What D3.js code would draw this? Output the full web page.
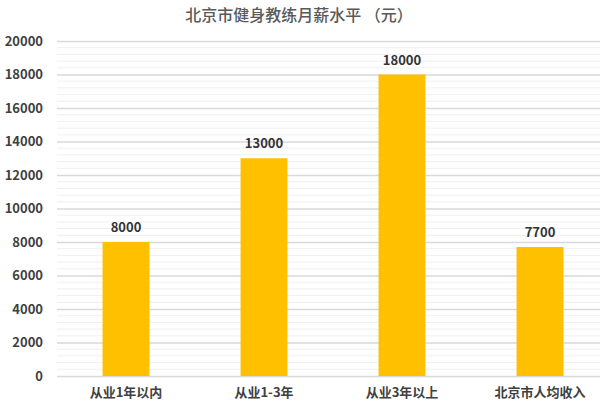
<!DOCTYPE html>
<html>
<head>
<meta charset="utf-8">
<script src="https://cdn.jsdelivr.net/npm/d3@7"></script>
<style>
  body { margin: 0; background: #fff; }
  text { font-family: "Noto Sans CJK SC", "Noto Sans", sans-serif; }
</style>
</head>
<body>
<div id="chart"></div>
<script>
  // data
  var categories = ["从业1年以内", "从业1-3年", "从业3年以上", "北京市人均收入"];
  var salaries = [8000, 13000, 18000, 7700];
  var yTicks = [0, 2000, 4000, 6000, 8000, 10000, 12000, 14000, 16000, 18000, 20000];
  var title = "北京市健身教练月薪水平 （元）";

  var width = 600, height = 404;
  // plot box (note: "top" is reserved on window, so use plot* names)
  var plotLeft = 57, plotRight = 609, plotTop = 41, plotBottom = 376;

  var svg = d3.select("#chart").append("svg")
    .attr("width", width)
    .attr("height", height);

  var x = d3.scaleBand().domain(categories).range([plotLeft, plotRight]).paddingInner(0.66).paddingOuter(0.33);
  var y = d3.scaleLinear().domain([0, 20000]).range([plotBottom, plotTop]);

  // minor gridlines every 400
  var minor = d3.range(0, 20001, 400).filter(function (v) { return v % 2000 !== 0; });
  svg.append("g").selectAll("line").data(minor).enter().append("line")
    .attr("x1", plotLeft).attr("x2", width)
    .attr("y1", function (d) { return y(d); }).attr("y2", function (d) { return y(d); })
    .attr("stroke", "#efefef").attr("stroke-width", 1);

  // major gridlines + labels
  var yAxis = d3.axisLeft(y).tickValues(yTicks).tickFormat(d3.format("d"))
    .tickSize(-(width - plotLeft)).tickPadding(14);
  var gy = svg.append("g").attr("transform", "translate(" + plotLeft + ",0)").call(yAxis);
  gy.select(".domain").remove();
  gy.selectAll(".tick line").attr("stroke", "#d9d9d9").attr("stroke-width", 1.5);
  gy.selectAll(".tick text")
    .attr("fill", "#404040")
    .attr("font-size", 13)
    .attr("font-weight", "bold");

  // bars
  svg.append("g").selectAll("rect").data(salaries).enter().append("rect")
    .attr("x", function (d, i) { return x(categories[i]); })
    .attr("width", x.bandwidth())
    .attr("y", function (d) { return y(d); })
    .attr("height", function (d) { return y(0) - y(d); })
    .attr("fill", "#ffc000");

  // value labels
  svg.append("g").selectAll("text").data(salaries).enter().append("text")
    .attr("x", function (d, i) { return x(categories[i]) + x.bandwidth() / 2; })
    .attr("y", function (d) { return y(d) - 10; })
    .attr("text-anchor", "middle")
    .attr("fill", "#333")
    .attr("font-size", 13)
    .attr("font-weight", "bold")
    .text(function (d) { return d; });

  // category axis
  var xAxis = d3.axisBottom(x).tickSize(0).tickPadding(12);
  var gx = svg.append("g").attr("transform", "translate(0," + plotBottom + ")").call(xAxis);
  gx.select(".domain").remove();
  gx.selectAll(".tick text")
    .attr("fill", "#404040")
    .attr("font-size", 13)
    .attr("font-weight", "bold");

  // title
  svg.append("text")
    .attr("x", 299)
    .attr("y", 21)
    .attr("text-anchor", "middle")
    .attr("fill", "#595959")
    .attr("font-size", 16)
    .attr("font-weight", 500)
    .text(title);
</script>
</body>
</html>
